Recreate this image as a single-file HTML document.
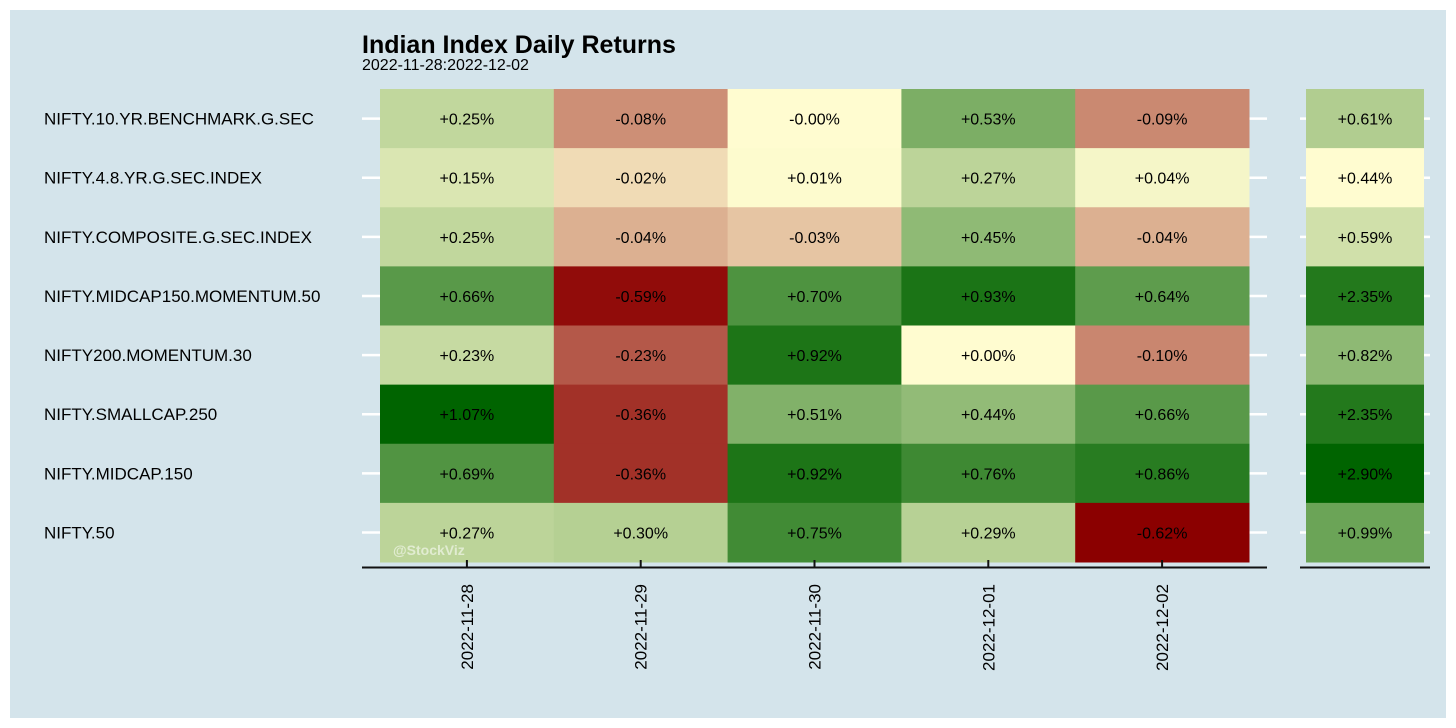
<!DOCTYPE html>
<html><head><meta charset="utf-8"><style>
html,body{margin:0;padding:0;background:#fff;}
svg{display:block;font-family:"Liberation Sans",sans-serif;}
</style></head><body>
<svg id="chart" width="1456" height="728" viewBox="0 0 1456 728">
<rect x="10" y="10" width="1436" height="708" fill="#d4e4eb"/>
<text x="362" y="53" font-size="25" font-weight="bold" fill="#000">Indian Index Daily Returns</text>
<text x="362" y="70" font-size="16" fill="#000">2022-11-28:2022-12-02</text>
<g id="main"></g>
<g id="side"></g>
<g id="labels"></g>
<text x="393" y="555" font-size="14" font-weight="bold" fill="#ffffff" fill-opacity="0.55">@StockViz</text>
</svg>
<script>
const dates = ["2022-11-28","2022-11-29","2022-11-30","2022-12-01","2022-12-02"];
const indices = ["NIFTY.10.YR.BENCHMARK.G.SEC","NIFTY.4.8.YR.G.SEC.INDEX","NIFTY.COMPOSITE.G.SEC.INDEX","NIFTY.MIDCAP150.MOMENTUM.50","NIFTY200.MOMENTUM.30","NIFTY.SMALLCAP.250","NIFTY.MIDCAP.150","NIFTY.50"];
const returns = [
 [0.25,-0.08,-0.00,0.53,-0.09],
 [0.15,-0.02,0.01,0.27,0.04],
 [0.25,-0.04,-0.03,0.45,-0.04],
 [0.66,-0.59,0.70,0.93,0.64],
 [0.23,-0.23,0.92,0.00,-0.10],
 [1.07,-0.36,0.51,0.44,0.66],
 [0.69,-0.36,0.92,0.76,0.86],
 [0.27,0.30,0.75,0.29,-0.62]];
const totals = [0.61,0.44,0.59,2.35,0.82,2.35,2.90,0.99];

const NS="http://www.w3.org/2000/svg";
const svg=document.getElementById('chart');
const gMain=document.getElementById('main'), gSide=document.getElementById('side'), gLab=document.getElementById('labels');
const x0=380,x1=1249,y0=89,y1=562;
const colW=(x1-x0)/dates.length, rowH=(y1-y0)/indices.length;
const xScale=i=>x0+i*colW, yScale=j=>y0+j*rowH;
const sx0=1306,sx1=1424;
function mk(tag,attrs,parent){const e=document.createElementNS(NS,tag);for(const k in attrs)e.setAttribute(k,attrs[k]);parent.appendChild(e);return e;}
function lerp(a,b,t){return [0,1,2].map(i=>Math.round(a[i]+(b[i]-a[i])*t));}
function rgb(c){return `rgb(${c[0]},${c[1]},${c[2]})`;}
const Y=[255,252,208],G=[0,100,0],R=[139,0,0];
function interp(knots,v){
  for(let i=1;i<knots.length;i++){if(v<=knots[i][0]){const a=knots[i-1],b=knots[i];return a[1]+(b[1]-a[1])*(v-a[0])/(b[0]-a[0]);}}
  return knots[knots.length-1][1];
}
function color(v){
  const mx=Math.max(...returns.flat()), mn=Math.min(...returns.flat());
  if(v>=0){const t=interp([[0,0],[0.5,0.52],[0.75,0.8],[1,1]],v/mx);return rgb(lerp(Y,G,t));}
  const t=interp([[0,0],[0.03,0.12],[0.07,0.33],[0.14,0.45],[0.37,0.65],[0.6,0.82],[0.95,0.95],[1,1]],v/mn);
  return rgb(lerp(Y,R,t));
}
function sideColor(v){
  const mx=Math.max(...totals), mn=Math.min(...totals);
  const t=interp([[0,0],[0.06,0.17],[0.07,0.32],[0.16,0.45],[0.22,0.58],[0.77,0.86],[1,1]],(v-mn)/(mx-mn));
  return rgb(lerp(Y,G,t));
}
const fmt=v=>(v>0||(v===0&&!Object.is(v,-0))?"+":"-")+Math.abs(v).toFixed(2)+"%";

indices.forEach((name,j)=>{
  const cy=yScale(j)+rowH/2;
  let t=mk('line',{x1:362,x2:380,y1:cy,y2:cy,stroke:'#fff','stroke-width':2.5},gMain);
  
  
  t=mk('line',{x1:1249,x2:1267,y1:cy,y2:cy,stroke:'#fff','stroke-width':2.5},gMain);
  
  
  t=mk('line',{x1:1300,x2:1430,y1:cy,y2:cy,stroke:'#fff','stroke-width':2.5},gSide);
  
  
  const lab=mk('text',{x:44,y:cy+6,'font-size':17,fill:'#000'},gLab);
  lab.textContent=name;
  
  
});
returns.forEach((row,j)=>{
  row.forEach((v,i)=>{
    const r=mk('rect',{x:xScale(i),y:yScale(j),width:colW+0.5,height:rowH+0.5,fill:color(v)},gMain);
    
    
    const tx=mk('text',{x:xScale(i)+colW/2,y:yScale(j)+rowH/2+6,'font-size':16,'text-anchor':'middle',fill:'#000'},gMain);
    tx.textContent=(v===0&&Object.is(v,-0))?"-0.00%":fmt(v);
    
    
  });
});
// fix the -0.00 value display
gMain.querySelectorAll('text')[2].textContent="-0.00%";
totals.forEach((v,j)=>{
  const r=mk('rect',{x:sx0,y:yScale(j),width:sx1-sx0,height:rowH+0.5,fill:sideColor(v)},gSide);
  
  
  const tx=mk('text',{x:(sx0+sx1)/2,y:yScale(j)+rowH/2+6,'font-size':16,'text-anchor':'middle',fill:'#000'},gSide);
  tx.textContent=fmt(v);
  
  
});
let ax=mk('line',{x1:362,x2:1267,y1:567.5,y2:567.5,stroke:'#111','stroke-width':2},gMain);


ax=mk('line',{x1:1300,x2:1430,y1:567.5,y2:567.5,stroke:'#111','stroke-width':2},gSide);


dates.forEach((d,i)=>{
  const cx=xScale(i)+colW/2;
  const tk=mk('line',{x1:cx,x2:cx,y1:560,y2:568,stroke:'#111','stroke-width':2},gMain);
  
  
  const tx=mk('text',{x:0,y:0,'font-size':17,'text-anchor':'end',fill:'#000',transform:`translate(${cx+6},584) rotate(-90)`},gLab);
  tx.textContent=d;
  
  
});
</script>
</body></html>
